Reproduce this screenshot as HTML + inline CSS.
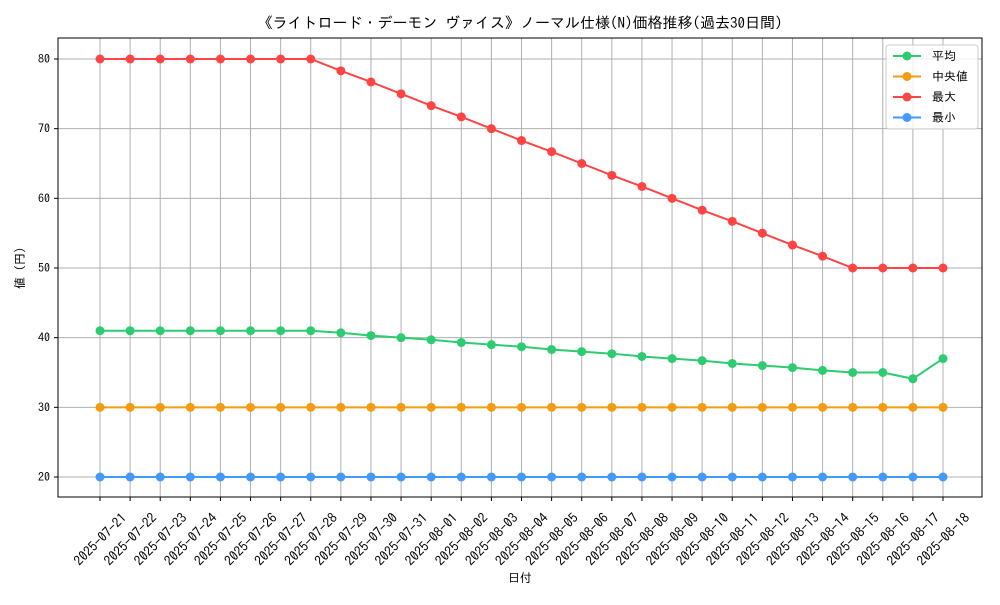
<!DOCTYPE html>
<html><head><meta charset="utf-8"><style>
body{margin:0;background:#fff;}
svg text{font-family:"IPAGothic","Liberation Sans","Noto Sans CJK JP",sans-serif;fill:#000;}
</style></head><body>
<svg id="chart" width="1000" height="600" xmlns="http://www.w3.org/2000/svg">
<rect width="1000" height="600" fill="#fff"/>
<text x="520" y="28" font-size="15" text-anchor="middle">《ライトロード・デーモン ヴァイス》ノーマル仕様(N)価格推移(過去30日間)</text>
<g id="grid"></g>
<g id="series"></g>
<rect x="58" y="38" width="924" height="459" fill="none" stroke="#000" stroke-width="1"/>
<g id="axes"></g>
<text x="520" y="582" font-size="12" text-anchor="middle">日付</text>
<text transform="translate(24,268) rotate(-90)" font-size="12" text-anchor="middle">値 (円)</text>
<g>
<rect x="886" y="45" width="92" height="84" fill="#fff" fill-opacity="0.8" stroke="#ccc" rx="3"/>
<g id="legend-items"></g>
</g>
</svg>
<script>
const dates=["2025-07-21","2025-07-22","2025-07-23","2025-07-24","2025-07-25","2025-07-26","2025-07-27","2025-07-28","2025-07-29","2025-07-30","2025-07-31","2025-08-01","2025-08-02","2025-08-03","2025-08-04","2025-08-05","2025-08-06","2025-08-07","2025-08-08","2025-08-09","2025-08-10","2025-08-11","2025-08-12","2025-08-13","2025-08-14","2025-08-15","2025-08-16","2025-08-17","2025-08-18"];
const avgVals=[41,41,41,41,41,41,41,41,40.7,40.3,40,39.7,39.3,39,38.7,38.3,38,37.7,37.3,37,36.7,36.3,36,35.7,35.3,35,35,34.1,37];
const medVals=[30,30,30,30,30,30,30,30,30,30,30,30,30,30,30,30,30,30,30,30,30,30,30,30,30,30,30,30,30];
const maxVals=[80,80,80,80,80,80,80,80,78.3,76.7,75,73.3,71.7,70,68.3,66.7,65,63.3,61.7,60,58.3,56.7,55,53.3,51.7,50,50,50,50];
const minVals=[20,20,20,20,20,20,20,20,20,20,20,20,20,20,20,20,20,20,20,20,20,20,20,20,20,20,20,20,20];
const yTicks=[20,30,40,50,60,70,80];
const seriesNames=["平均","中央値","最大","最小"];
const seriesColors=["#2ecc71","#f39c12","#ff4444","#4499ff"];
const NS="http://www.w3.org/2000/svg";
const x=i=>100+i*(843/(dates.length-1));
const y=v=>477-(v-20)*(418/60);
function mk(tag,attrs,parent){const e=document.createElementNS(NS,tag);for(const k in attrs)e.setAttribute(k,attrs[k]);parent.appendChild(e);return e;}
const grid=document.getElementById('grid'),axes=document.getElementById('axes'),ser=document.getElementById('series');
dates.forEach((d,i)=>{
 const g=mk('line',{x1:x(i),x2:x(i),y1:38,y2:497,stroke:'#b0b0b0','stroke-width':1},grid);
 
 const t=mk('line',{x1:x(i),x2:x(i),y1:497,y2:501,stroke:'#000'},axes);
 
 const l=mk('text',{transform:`translate(${x(i)},${539}) rotate(-45)`,'font-size':13.5,'text-anchor':'middle','dominant-baseline':'central'},axes);
 l.textContent=d;
});
yTicks.forEach(v=>{
 const g=mk('line',{x1:58,x2:982,y1:y(v),y2:y(v),stroke:'#b0b0b0','stroke-width':1},grid);
 
 const t=mk('line',{x1:54,x2:58,y1:y(v),y2:y(v),stroke:'#000'},axes);
 
 const l=mk('text',{x:50,y:y(v)+4,'font-size':12,'text-anchor':'end'},axes);
 l.textContent=v;
});
const allSeries=[avgVals,medVals,maxVals,minVals];
const keys=['avg','median','max','min'];
allSeries.forEach((vals,s)=>{
 const p=mk('polyline',{points:vals.map((v,i)=>x(i)+','+y(v)).join(' '),fill:'none',stroke:seriesColors[s],'stroke-width':2},ser);
 
 vals.forEach((v,i)=>{
  const c=mk('circle',{cx:x(i),cy:y(v),r:4.5,fill:seriesColors[s]},ser);
  
 });
});
const li=document.getElementById('legend-items');
seriesNames.forEach((n,s)=>{
 const yy=56+s*20.5;
 const g=mk('g',{},li);
 
 mk('line',{x1:893,x2:921,y1:yy,y2:yy,stroke:seriesColors[s],'stroke-width':2},g);
 mk('circle',{cx:907,cy:yy,r:4.5,fill:seriesColors[s]},g);
 const t=mk('text',{x:932,y:yy+4,'font-size':12},g);t.textContent=n;
});
</script>
</body></html>
